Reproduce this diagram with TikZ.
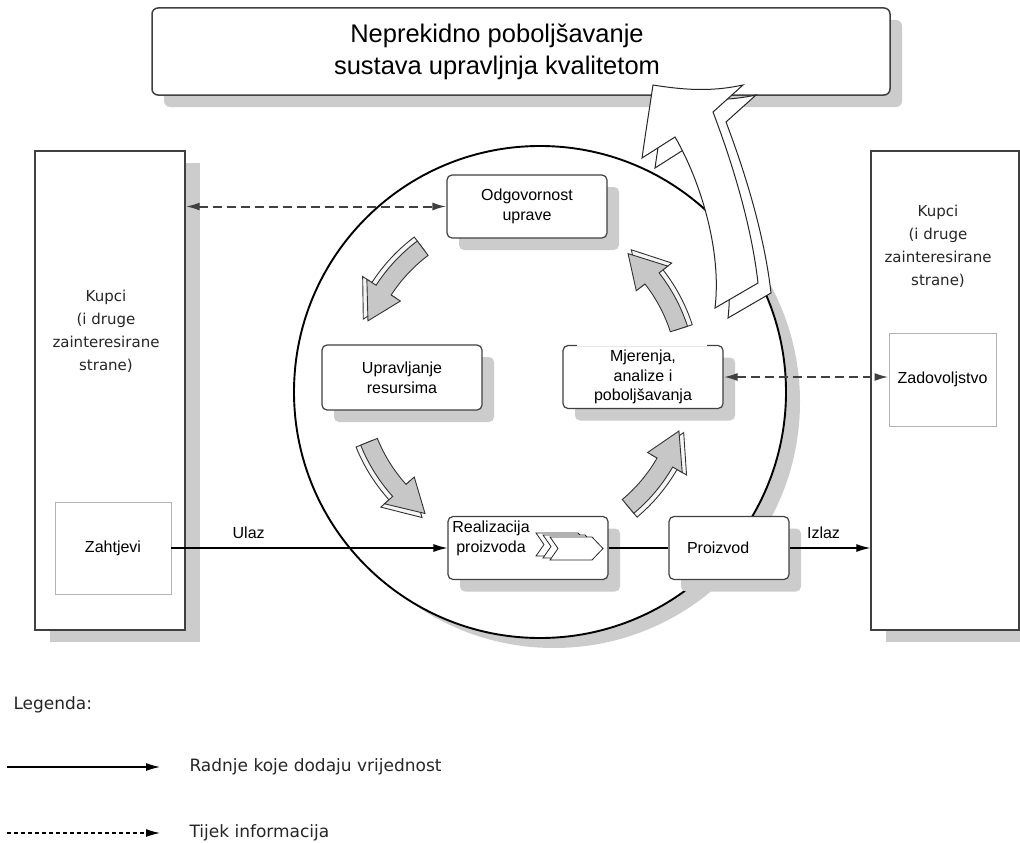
\documentclass[tikz,border=0pt]{standalone}
\usepackage{fontspec}
\setmainfont{Liberation Sans}
\newfontfamily\verdana{DejaVu Sans}
\usetikzlibrary{arrows.meta,shadows}

\begin{document}
\begin{tikzpicture}[x=1pt,y=-1pt,
  okvir/.style={draw=black!75,line width=1.2pt,rounded corners=5pt,fill=white,
    minimum width=160pt,minimum height=63pt,align=center,inner sep=2pt,
    font=\fontsize{16}{20}\selectfont,
    drop shadow={shadow xshift=12pt,shadow yshift=-12pt,fill=black!20,opacity=1}},
  stranka/.style={draw=black!75,line width=1.4pt,fill=white,minimum height=479pt,
    drop shadow={shadow xshift=15pt,shadow yshift=-12pt,fill=black!20,opacity=1}},
  unutra/.style={draw=black!30,line width=0.8pt,fill=white,font=\fontsize{16}{20}\selectfont},
  tekst/.style={align=center,font=\verdana\fontsize{15}{23}\selectfont,text=black!85},
  vrijednost/.style={line width=1.2pt,-{Latex[length=14pt,width=8pt]}},
  informacija/.style={line width=2pt,draw=black!75,dash pattern=on 9pt off 5pt,
    {Latex[length=14pt,width=8pt]}-{Latex[length=14pt,width=8pt]}},
  ciklus/.style={draw=black!80,line width=0.9pt},
  bijela/.style={fill=white,draw=black!85,line width=1pt},
  legenda/.style={anchor=west,font=\verdana\fontsize{17}{20}\selectfont,text=black!85}]
\useasboundingbox (0,0) rectangle (1020,843);

% gornji okvir
\node[draw=black!75,line width=1.5pt,rounded corners=6pt,fill=white,minimum width=738pt,minimum height=87pt,
  drop shadow={shadow xshift=12pt,shadow yshift=-12pt,fill=black!20,opacity=1}] (poboljsanje) at (521,51.5) {};
\node[align=center,font=\fontsize{25.5}{32}\selectfont] (naslov) at (497,52) {Neprekidno poboljšavanje\\sustava upravljnja kvalitetom};

% kupci
\node[stranka,minimum width=150pt] (kupciL) at (110,390.5) {};
\node[tekst] at (106,331) {Kupci\\(i druge\\zainteresirane\\strane)};
\node[unutra,minimum width=116pt,minimum height=92pt] (zahtjevi) at (113,548) {Zahtjevi};
\node[stranka,minimum width=148pt] (kupciD) at (945,390.5) {};
\node[tekst] at (938,246.5) {Kupci\\(i druge\\zainteresirane\\strane)};
\node[unutra,minimum width=107pt,minimum height=93pt] (zadovoljstvo) at (942.5,379.5) {Zadovoljstvo};

% krug
\node[circle,draw=black,line width=1.9pt,fill=white,minimum size=492pt,
  drop shadow={shadow xshift=14pt,shadow yshift=-10pt,fill=black!20,opacity=1}] (krug) at (540,392) {};

\node[okvir] (odgovornost) at (527,206.5) {Odgovornost\\uprave};
\node[okvir,minimum height=65pt] (upravljanje) at (402,377.5) {Upravljanje\\resursima};
\node[okvir,minimum height=63pt,font=\fontsize{16}{19.5}\selectfont] (mjerenja) at (643,377) {Mjerenja,\\analize i\\poboljšavanja};
\draw[white,line width=3pt] ([xshift=-66pt]mjerenja.north) -- ([xshift=64pt]mjerenja.north);
\node[okvir] (realizacija) at (528,548) {};
\node[align=center,font=\fontsize{16}{20}\selectfont] at (491,538) {Realizacija\\proizvoda};
\foreach \s in {14,7,0}
	\filldraw[bijela,line width=0.8pt,shift={(-\s,-\s/3.5)}] (550,537) -- (592,537) -- (603,548.5) -- (592,560) -- (550,560) -- (558,548.5) -- cycle;
\node[okvir,minimum width=120pt,text width=84pt,align=left] (proizvod) at (729,548) {Proizvod};

% strelice ciklusa
\begin{scope}[shift={(522,380)}]
\foreach \a in {-127,-202,-310,-18}
	\foreach \e/\boja in {5/black!4,0/black!22}
		\filldraw[ciklus,fill=\boja] (\a:174+\e) arc[start angle=\a,end angle=\a-20,radius=174+\e] -- (\a-20:185+\e) -- (\a-32:165+\e) -- (\a-20:145+\e) -- (\a-20:156+\e) arc[start angle=\a-20,end angle=\a,radius=156+\e] -- cycle;
\end{scope}

% tokovi
\draw[vrijednost] (zahtjevi.east) -- node[pos=0.28,above=5pt,font=\fontsize{16}{20}\selectfont] {Ulaz} (realizacija.west);
\draw[line width=1.2pt] (realizacija.east) -- (proizvod.west);
\draw[vrijednost] (proizvod.east) -- node[pos=0.42,above=5pt,font=\fontsize{16}{20}\selectfont] {Izlaz} (proizvod.east -| kupciD.west);
\draw[informacija] (odgovornost.west -| kupciL.east) -- (odgovornost.west);
\draw[informacija] (mjerenja.east) -- (mjerenja.east -| zadovoljstvo.west);

% velika strelica
\foreach \sx/\sy in {13/10,0/0}
	\filldraw[bijela,shift={(\sx,\sy)}] (653,85) .. controls (690,91) and (715,91) .. (743,85) -- (713,112) .. controls (735,170) and (752,230) .. (758,283) -- (715,308) .. controls (722,250) and (700,180) .. (675,137) -- (642,158) .. controls (646,130) and (650,105) .. (653,85) -- cycle;

% legenda
\node[legenda] (leg) at (10,705) {Legenda:};
\coordinate (v1) at (7,767);
\node[legenda] (rad) at (186,767) {Radnje koje dodaju vrijednost};
\draw[line width=1.2pt,-{Latex[length=14pt,width=8pt]}] (v1) -- (rad.west -| 160,0);
\coordinate (i1) at (7,833);
\node[legenda] (tij) at (186,833) {Tijek informacija};
\draw[line width=1.2pt,dash pattern=on 4pt off 3pt,-{Latex[length=14pt,width=8pt]}] (i1) -- (tij.west -| 160,0);
\end{tikzpicture}
\end{document}
